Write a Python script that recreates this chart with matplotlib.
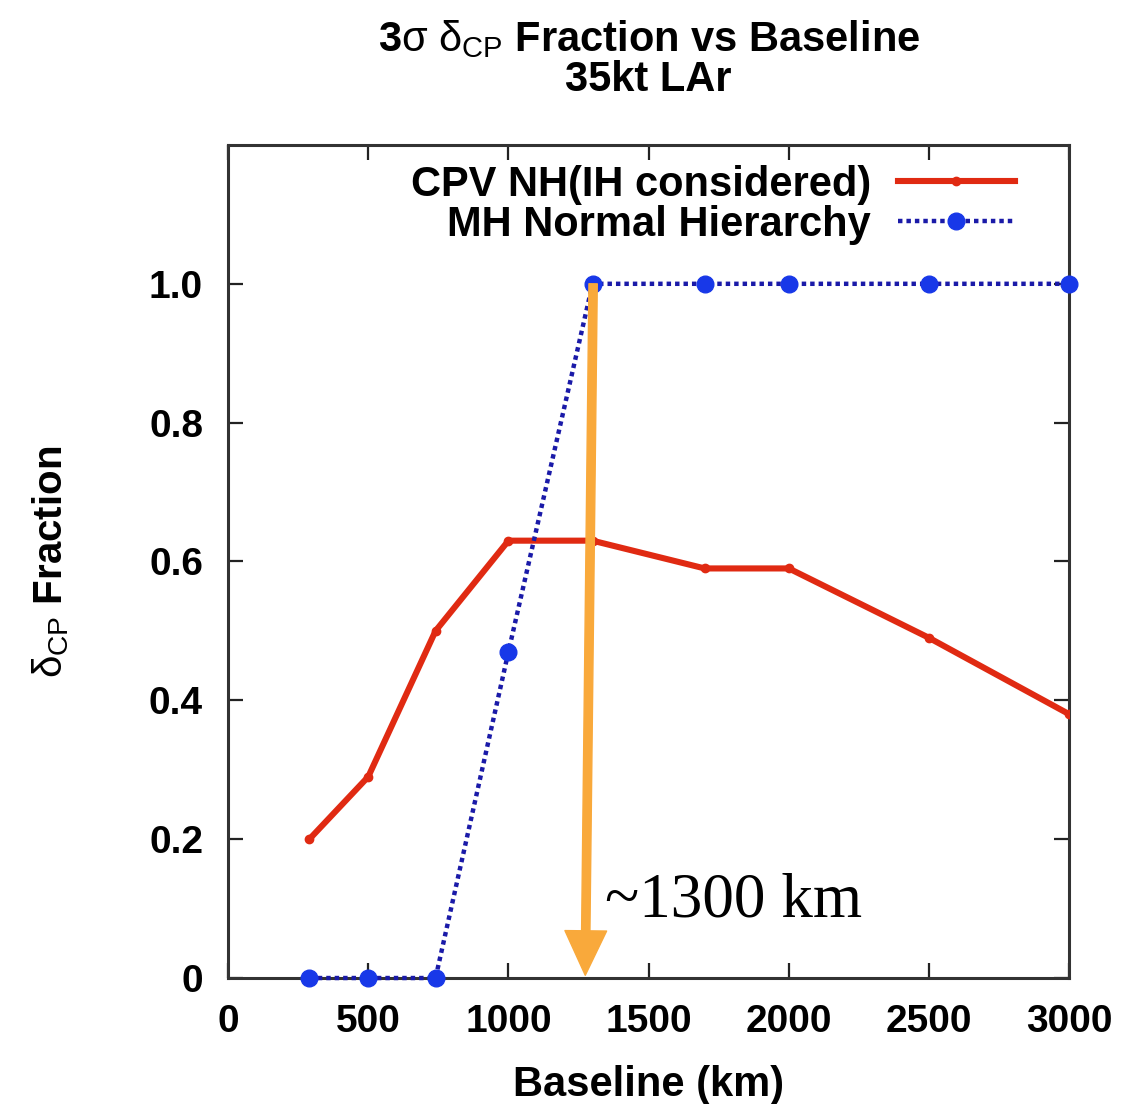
import matplotlib
matplotlib.use("Agg")
import matplotlib.pyplot as plt

baseline_km = [290, 500, 740, 1000, 1300, 1700, 2000, 2500, 3000]
cpv_nh = [0.20, 0.29, 0.50, 0.63, 0.63, 0.59, 0.59, 0.49, 0.38]
mh_nh = [0.0, 0.0, 0.0, 0.47, 1.0, 1.0, 1.0, 1.0, 1.0]
x_ticks = [0, 500, 1000, 1500, 2000, 2500, 3000]
x_ticklabels = ["0", "500", "1000", "1500", "2000", "2500", "3000"]
y_ticks = [0, 0.2, 0.4, 0.6, 0.8, 1.0]
y_ticklabels = ["0", "0.2", "0.4", "0.6", "0.8", "1.0"]
series_labels = ["CPV NH(IH considered)", "MH Normal Hierarchy"]
arrow_top = (1302, 1.0)
arrow_tip = (1274, 0.004)
arrow_text = "~1300 km"

plt.rcParams["font.family"] = ["Liberation Sans", "DejaVu Sans"]
plt.rcParams["mathtext.fontset"] = "custom"
plt.rcParams["mathtext.rm"] = "Liberation Sans"
plt.rcParams["mathtext.it"] = "Liberation Sans"
plt.rcParams["mathtext.bf"] = "Liberation Sans:bold"

fig = plt.figure(figsize=(11.46, 11.04), dpi=100)
ax = fig.add_axes([0.199, 0.1141, 0.734, 0.7546])

red = "#e02a12"
blue_line = "#1a1aa8"
blue_mark = "#1838e8"

ax.plot(baseline_km, cpv_nh, color=red, lw=4.4, marker="o", ms=6,
        mfc=red, mec=red, label=series_labels[0], zorder=3)
ax.plot(baseline_km, mh_nh, color=blue_line, lw=3.2, linestyle=(0, (1, 0.9)),
        dash_capstyle="butt", marker="o", ms=12, mfc=blue_mark, mec=blue_mark,
        label=series_labels[1], zorder=3, clip_on=False)

ax.set_xlim(0, 3000)
ax.set_ylim(0, 1.2)
ax.set_xticks(x_ticks)
ax.set_xticklabels(x_ticklabels)
ax.set_yticks(y_ticks)
ax.set_yticklabels(y_ticklabels)

for lab in ax.get_xticklabels() + ax.get_yticklabels():
    lab.set_fontweight("bold")
    lab.set_fontsize(28)

ax.tick_params(direction="in", length=11, width=1.6, color="#222222",
               top=True, right=True)
ax.tick_params(axis="y", pad=18)
ax.tick_params(axis="x", pad=19)
for s in ax.spines.values():
    s.set_linewidth(2.2)
    s.set_color("#333333")

ax.set_xlabel("Baseline (km)", fontsize=30, fontweight="bold", labelpad=18)
ax.set_ylabel(r"$\delta_{\rm CP}$ Fraction", fontsize=29, fontweight="bold",
              labelpad=56)
ax.set_title(r"3$\sigma$ $\delta_{\rm CP}$ Fraction vs Baseline" + "\n35kt LAr",
             fontsize=30, fontweight="bold", pad=39, linespacing=1.0)

leg = ax.legend(loc="upper right", bbox_to_anchor=(0.97, 1.011),
                markerfirst=False, frameon=False, handlelength=2.8,
                prop={"weight": "bold", "size": 30}, labelspacing=0.0,
                handletextpad=0.65, borderaxespad=0.3)

ax.annotate("", xy=arrow_tip, xytext=arrow_top,
            arrowprops=dict(arrowstyle="simple,head_length=3.2,head_width=3.0,tail_width=0.6",
                            color="#f9a93b", mutation_scale=10, shrinkA=0, shrinkB=0),
            zorder=5, annotation_clip=False)
ax.text(1345, 0.088, arrow_text, fontsize=45.5, family="Liberation Serif",
        va="baseline", ha="left", zorder=6)

fig.savefig("out.png", dpi=100)
